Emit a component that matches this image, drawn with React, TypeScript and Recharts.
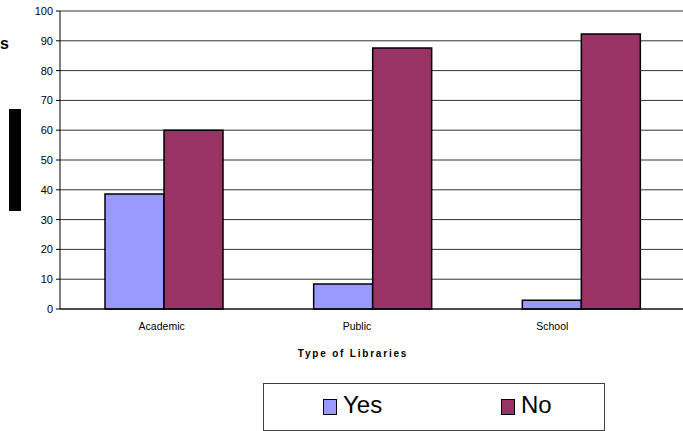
import React from 'react';
import { BarChart, Bar, XAxis, YAxis, CartesianGrid, Legend, ReferenceLine } from 'recharts';

// survey answers per library type, in percent
const libraryTypes = ['Academic', 'Public', 'School'];
const seriesNames = ['Yes', 'No'];
const yesValues = [38.6, 8.4, 2.9];
const noValues = [60, 87.6, 92.3];
const yTicks = [0, 10, 20, 30, 40, 50, 60, 70, 80, 90, 100];
const boundaryTicks = [0, 1, 2, 3];

const data = libraryTypes.map((type, i) => ({
    type,
    Yes: yesValues[i],
    No: noValues[i]
}));

const FONT = 'Arial, "Liberation Sans", sans-serif';

const renderAxisTitle = ({ viewBox }: any) => (
    <text
        x={viewBox.x + viewBox.width / 2 - 20}
        y={viewBox.y + 47}
        textAnchor="middle"
        fontFamily={FONT}
        fontSize={10}
        fontWeight="bold"
        letterSpacing={1.8}
        fill="#000"
    >
        Type of Libraries
    </text>
);

const renderLegend = ({ payload }: any) => {
    const entries = [...(payload || [])].sort(
        (a: any, b: any) => seriesNames.indexOf(a.value) - seriesNames.indexOf(b.value)
    );
    return (
        <div
            style={{
                position: 'relative',
                boxSizing: 'border-box',
                width: 342,
                height: 48,
                border: '1px solid #404040',
                background: '#fff',
                fontFamily: FONT
            }}
        >
            {entries.map((entry: any, i: number) => (
                <div
                    key={entry.value}
                    style={{
                        position: 'absolute',
                        left: i === 0 ? 59 : 237,
                        top: 7,
                        display: 'flex',
                        alignItems: 'flex-start'
                    }}
                >
                    <span
                        style={{
                            display: 'block',
                            boxSizing: 'border-box',
                            width: 14,
                            height: 16,
                            marginTop: 8,
                            marginRight: 6,
                            border: '1.5px solid #000',
                            background: entry.color
                        }}
                    />
                    <span style={{ fontSize: 24, lineHeight: '28px', color: '#000' }}>{entry.value}</span>
                </div>
            ))}
        </div>
    );
};

export default function App() {
    return (
        <div
            style={{
                position: 'absolute',
                left: 0,
                top: 0,
                width: 683,
                height: 431,
                overflow: 'hidden',
                background: '#fff',
                fontFamily: FONT
            }}
        >
            {/* clipped vertical axis title */}
            <div style={{ position: 'absolute', left: 0, top: 36, fontSize: 16, lineHeight: '16px', fontWeight: 'bold' }}>s</div>
            <div style={{ position: 'absolute', left: 9, top: 109, width: 12, height: 102, background: '#000' }} />

            <BarChart
                width={686}
                height={431}
                data={data}
                barGap={0}
                margin={{ top: 11, right: 0, bottom: 0, left: 0 }}
            >
                <CartesianGrid vertical={false} stroke="#333" xAxisId="labels" />
                <XAxis xAxisId="bars" dataKey="type" hide height={0} />
                {/* tick marks sit on the category boundaries */}
                <XAxis
                    xAxisId="edges"
                    type="number"
                    domain={[0, 3]}
                    ticks={boundaryTicks}
                    padding={{ left: 0, right: 39 }}
                    height={1}
                    tick={false}
                    tickSize={5}
                    tickLine={{ stroke: '#000' }}
                    axisLine={{ stroke: '#000' }}
                />
                <XAxis
                    xAxisId="labels"
                    dataKey="type"
                    padding={{ left: 4, right: 36 }}
                    height={121}
                    axisLine={false}
                    tickLine={false}
                    tickSize={5}
                    tickMargin={8}
                    tick={{ fontSize: 10.5, fill: '#000', fontFamily: FONT }}
                    label={renderAxisTitle}
                />
                <YAxis
                    type="number"
                    domain={[0, 100]}
                    ticks={yTicks}
                    width={60}
                    tickSize={4}
                    tickMargin={3}
                    axisLine={{ stroke: '#000' }}
                    tickLine={{ stroke: '#000' }}
                    tick={{ fontSize: 11, fill: '#000', fontFamily: FONT }}
                />
                <ReferenceLine xAxisId="bars" y={100} stroke="#999" strokeWidth={2} />
                <Legend
                    layout="horizontal"
                    verticalAlign="middle"
                    content={renderLegend}
                    wrapperStyle={{ left: 263, top: 383, width: 342, height: 48 }}
                />
                <Bar xAxisId="bars" dataKey="Yes" name="Yes" fill="#9999FF" stroke="#000" strokeWidth={1.5} barSize={59} isAnimationActive={false} />
                <Bar xAxisId="bars" dataKey="No" name="No" fill="#993366" stroke="#000" strokeWidth={1.5} barSize={59} isAnimationActive={false} />
            </BarChart>
        </div>
    );
}
